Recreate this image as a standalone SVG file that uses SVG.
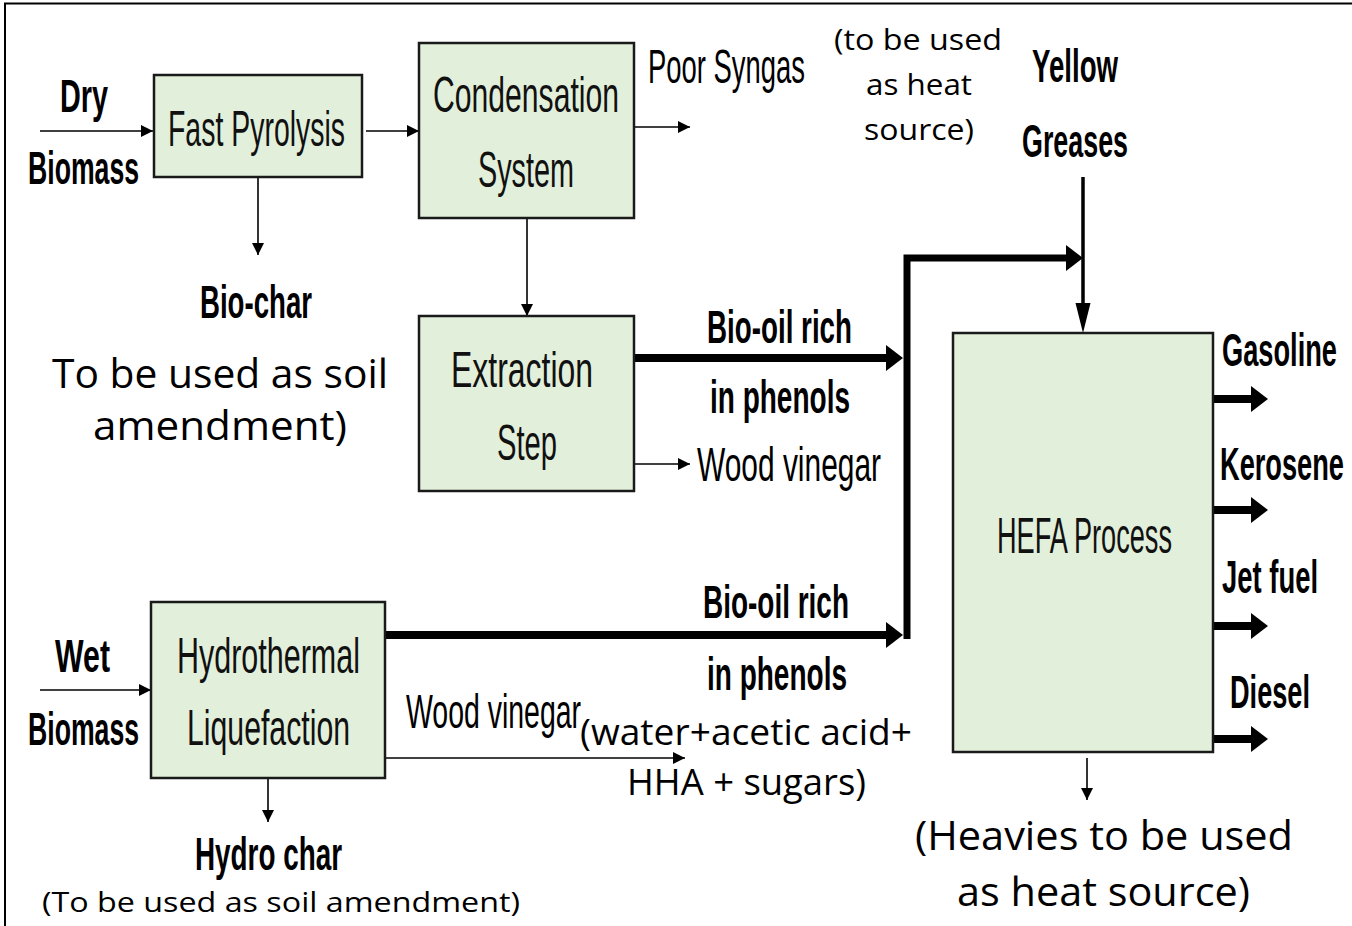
<svg xmlns="http://www.w3.org/2000/svg" width="1352" height="926" viewBox="0 0 1352 926">
<defs>
<style>
.box{fill:#e2efda;stroke:#1a1a1a;stroke-width:2.5}
.bt{font-family:"Liberation Sans",Arial,sans-serif;font-size:50px;fill:#111}
.bl{font-family:"Liberation Sans",Arial,sans-serif;font-weight:bold;font-size:46px;fill:#000}
.cn{font-family:"Liberation Sans",Arial,sans-serif;font-size:48px;fill:#000}
.os{font-family:"Open Sans","Noto Sans",sans-serif;fill:#000}
.thin{fill:none;stroke:#000;stroke-width:1.6;marker-end:url(#ah)}
.thick{fill:none;stroke:#000;stroke-width:8;marker-end:url(#ahb)}
</style>
<marker id="ah" markerUnits="userSpaceOnUse" markerWidth="14" markerHeight="14" refX="12" refY="6" orient="auto"><path d="M0,0 L12,6 L0,12 z" fill="#000"/></marker>
<marker id="ahb" markerUnits="userSpaceOnUse" markerWidth="20" markerHeight="28" refX="2" refY="13" orient="auto"><path d="M0,0 L17,13 L0,26 z" fill="#000"/></marker>
<marker id="ahy" markerUnits="userSpaceOnUse" markerWidth="32" markerHeight="16" refX="4" refY="7.5" orient="auto"><path d="M0,0 L30,7.5 L0,15 z" fill="#000"/></marker>
</defs>
<rect width="1352" height="926" fill="#fff"/>
<path d="M5,926 V3.5 H1352" fill="none" stroke="#000" stroke-width="2"/>

<g id="connectors">
<line class="thin" x1="40" y1="131" x2="153" y2="131"/>
<line class="thin" x1="366" y1="131" x2="419" y2="131"/>
<line class="thin" x1="258" y1="178" x2="258" y2="255"/>
<line class="thin" x1="635" y1="127" x2="690" y2="127"/>
<line class="thin" x1="527" y1="219" x2="527" y2="316"/>
<line class="thick" x1="635" y1="358" x2="888" y2="358"/>
<line class="thin" x1="635" y1="464" x2="690" y2="464"/>
<line class="thick" x1="386" y1="635" x2="888" y2="635"/>
<line class="thin" x1="386" y1="758" x2="685" y2="758"/>
<line class="thin" x1="40" y1="690" x2="151" y2="690"/>
<line class="thin" x1="268" y1="778" x2="268" y2="822"/>
<path d="M907,639 V258 H1068" fill="none" stroke="#000" stroke-width="7" marker-end="url(#ahb)"/>
<line x1="1083" y1="177" x2="1083" y2="307" stroke="#000" stroke-width="3.5" marker-end="url(#ahy)"/>
<line class="thick" x1="1213" y1="399" x2="1253" y2="399"/>
<line class="thick" x1="1213" y1="510" x2="1253" y2="510"/>
<line class="thick" x1="1213" y1="626" x2="1253" y2="626"/>
<line class="thick" x1="1213" y1="739" x2="1253" y2="739"/>
<line class="thin" x1="1087" y1="758" x2="1087" y2="800"/>
</g>

<g id="fast-pyrolysis">
<rect class="box" x="154" y="75" width="208" height="102"/>
<text class="bt" x="168" y="146" textLength="177" lengthAdjust="spacingAndGlyphs">Fast Pyrolysis</text>
</g>
<g id="condensation">
<rect class="box" x="419" y="43" width="215" height="175"/>
<text class="bt" x="433" y="112" textLength="186" lengthAdjust="spacingAndGlyphs">Condensation</text>
<text class="bt" x="478" y="187" textLength="96" lengthAdjust="spacingAndGlyphs">System</text>
</g>
<g id="extraction">
<rect class="box" x="419" y="316" width="215" height="175"/>
<text class="bt" x="451" y="387" textLength="142" lengthAdjust="spacingAndGlyphs">Extraction</text>
<text class="bt" x="497" y="460" textLength="60" lengthAdjust="spacingAndGlyphs">Step</text>
</g>
<g id="htl">
<rect class="box" x="151" y="602" width="234" height="176"/>
<text class="bt" x="177" y="673" textLength="183" lengthAdjust="spacingAndGlyphs">Hydrothermal</text>
<text class="bt" x="187" y="745" textLength="163" lengthAdjust="spacingAndGlyphs">Liquefaction</text>
</g>
<g id="hefa">
<rect class="box" x="953" y="333" width="260" height="419"/>
<text class="bt" x="997" y="553" textLength="175" lengthAdjust="spacingAndGlyphs">HEFA Process</text>
</g>

<g id="labels">
<text class="bl" x="60" y="112" textLength="48" lengthAdjust="spacingAndGlyphs">Dry</text>
<text class="bl" x="28" y="184" textLength="111" lengthAdjust="spacingAndGlyphs">Biomass</text>
<text class="bl" x="200" y="318" textLength="112" lengthAdjust="spacingAndGlyphs">Bio-char</text>
<text class="os" font-size="40" x="52" y="388" textLength="336" lengthAdjust="spacingAndGlyphs">To be used as soil</text>
<text class="os" font-size="40" x="93" y="440" textLength="254" lengthAdjust="spacingAndGlyphs">amendment)</text>
<text class="cn" x="648" y="83" textLength="157" lengthAdjust="spacingAndGlyphs">Poor Syngas</text>
<text class="os" font-size="29" x="834" y="50" textLength="168" lengthAdjust="spacingAndGlyphs">(to be used</text>
<text class="os" font-size="29" x="866" y="95" textLength="106" lengthAdjust="spacingAndGlyphs">as heat</text>
<text class="os" font-size="29" x="864" y="140" textLength="110" lengthAdjust="spacingAndGlyphs">source)</text>
<text class="bl" x="1032" y="82" textLength="86" lengthAdjust="spacingAndGlyphs">Yellow</text>
<text class="bl" x="1022" y="157" textLength="106" lengthAdjust="spacingAndGlyphs">Greases</text>
<text class="bl" x="707" y="343" textLength="145" lengthAdjust="spacingAndGlyphs">Bio-oil rich</text>
<text class="bl" x="710" y="413" textLength="140" lengthAdjust="spacingAndGlyphs">in phenols</text>
<text class="cn" x="697" y="481" textLength="184" lengthAdjust="spacingAndGlyphs">Wood vinegar</text>
<text class="bl" x="703" y="618" textLength="146" lengthAdjust="spacingAndGlyphs">Bio-oil rich</text>
<text class="bl" x="707" y="690" textLength="140" lengthAdjust="spacingAndGlyphs">in phenols</text>
<text class="cn" x="406" y="728" textLength="175" lengthAdjust="spacingAndGlyphs">Wood vinegar</text>
<text class="os" font-size="36" x="580" y="745" textLength="332" lengthAdjust="spacingAndGlyphs">(water+acetic acid+</text>
<text class="os" font-size="36" x="627" y="795" textLength="239" lengthAdjust="spacingAndGlyphs">HHA + sugars)</text>
<text class="bl" x="55" y="672" textLength="55" lengthAdjust="spacingAndGlyphs">Wet</text>
<text class="bl" x="28" y="745" textLength="111" lengthAdjust="spacingAndGlyphs">Biomass</text>
<text class="bl" x="195" y="870" textLength="147" lengthAdjust="spacingAndGlyphs">Hydro char</text>
<text class="os" font-size="28" x="42" y="912" textLength="478" lengthAdjust="spacingAndGlyphs">(To be used as soil amendment)</text>
<text class="bl" x="1222" y="366" textLength="115" lengthAdjust="spacingAndGlyphs">Gasoline</text>
<text class="bl" x="1220" y="480" textLength="124" lengthAdjust="spacingAndGlyphs">Kerosene</text>
<text class="bl" x="1222" y="593" textLength="96" lengthAdjust="spacingAndGlyphs">Jet fuel</text>
<text class="bl" x="1230" y="708" textLength="80" lengthAdjust="spacingAndGlyphs">Diesel</text>
<text class="os" font-size="40" x="915" y="850" textLength="378" lengthAdjust="spacingAndGlyphs">(Heavies to be used</text>
<text class="os" font-size="40" x="957" y="906" textLength="293" lengthAdjust="spacingAndGlyphs">as heat source)</text>
</g>
</svg>
